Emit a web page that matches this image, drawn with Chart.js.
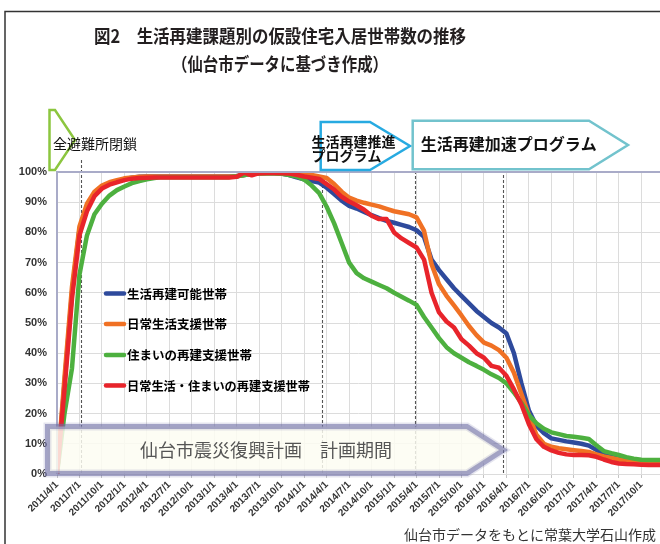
<!DOCTYPE html>
<html><head><meta charset="utf-8">
<script src="https://cdn.jsdelivr.net/npm/chart.js@4/dist/chart.umd.min.js"></script>
<style>html,body{margin:0;padding:0;background:#fff}#wrap{width:660px;height:544px;position:relative}</style>
</head><body><div id="wrap"><canvas id="c" width="660" height="544"></canvas></div>
<script>
// ---- categories (monthly) ----
const months = [
"2011/4/1","2011/5/1","2011/6/1","2011/7/1","2011/8/1","2011/9/1","2011/10/1","2011/11/1","2011/12/1",
"2012/1/1","2012/2/1","2012/3/1","2012/4/1","2012/5/1","2012/6/1","2012/7/1","2012/8/1","2012/9/1","2012/10/1","2012/11/1","2012/12/1",
"2013/1/1","2013/2/1","2013/3/1","2013/4/1","2013/5/1","2013/6/1","2013/7/1","2013/8/1","2013/9/1","2013/10/1","2013/11/1","2013/12/1",
"2014/1/1","2014/2/1","2014/3/1","2014/4/1","2014/5/1","2014/6/1","2014/7/1","2014/8/1","2014/9/1","2014/10/1","2014/11/1","2014/12/1",
"2015/1/1","2015/2/1","2015/3/1","2015/4/1","2015/5/1","2015/6/1","2015/7/1","2015/8/1","2015/9/1","2015/10/1","2015/11/1","2015/12/1",
"2016/1/1","2016/2/1","2016/3/1","2016/4/1","2016/5/1","2016/6/1","2016/7/1","2016/8/1","2016/9/1","2016/10/1","2016/11/1","2016/12/1",
"2017/1/1","2017/2/1","2017/3/1","2017/4/1","2017/5/1","2017/6/1","2017/7/1","2017/8/1","2017/9/1","2017/10/1","2017/11/1","2017/12/1",
"2018/1/1"];

const seriesNames = ["生活再建可能世帯","日常生活支援世帯","住まいの再建支援世帯","日常生活・住まいの再建支援世帯"];

// ---- series values (% of households) ----
const kanouValues = [
0,30,60,81,88.5,93,95,96.2,97,
97.7,98.1,98.4,98.5,98.5,98.5,98.5,98.5,98.5,98.5,98.5,98.5,
98.5,98.5,98.5,98.6,99,99.3,99.5,99.6,99.6,99.5,99,98.2,
97.6,97,96.5,94.8,92.7,90.5,88.8,87.9,86.8,85.7,84.7,83.8,
83.2,82.5,81.8,80.7,78.5,71,67.5,64.5,61.5,59,56.5,54,
52,50,48.5,46.5,40,30,21,16,13.5,11.8,11.3,10.8,
10.4,10,9.4,8,6.9,6.4,5.6,5,4.6,4.3,4.2,4.1,
4.1];
const nichijoValues = [
0,32,62,82,89.5,93.5,95.5,96.6,97.3,
97.9,98.2,98.4,98.5,98.5,98.5,98.5,98.5,98.5,98.5,98.5,98.5,
98.5,98.5,98.5,98.6,99,99.3,99.5,99.6,99.6,99.6,99.4,99.2,
99,99,98.5,98,96,93.5,91.5,90.5,89.8,89.2,88.6,87.8,
87,86.5,86,85,80.5,69.5,62.8,59,55.8,52.5,49,46,
43.5,42.5,41,38.5,33.5,26.5,19.5,13,10,9,8.5,8.2,
7.9,7.6,7.3,6.5,5.8,5.3,4.8,4.3,3.9,3.6,3.5,3.5,
3.5];
const sumaiValues = [
0,20,35,66,79,86,89.5,92.2,94,
95.2,96.3,97,97.6,98,98.3,98.3,98.3,98.3,98.3,98.3,98.3,
98.3,98.3,98.3,98.6,99,99.4,99.6,99.7,99.6,99.4,99,98.5,
97.5,95.5,93,88.5,83,76.5,70,66.5,64.8,63.7,62.6,61.5,
60,58.7,57.4,56,52,48.5,45,42,40,38.5,37,35.8,
34.5,33,31.8,30,27,23.5,19.5,16.8,15,13.8,13.2,12.6,
12.3,12,11.6,9.5,7.6,6.9,6.3,5.6,5.1,4.7,4.6,4.6,
4.6];
const bothValues = [
0,28,58,79,87,92,94.5,95.8,96.6,
97.3,97.8,98,98.1,98.2,98.2,98.2,98.2,98.2,98.2,98.2,98.2,
98.2,98.2,98.2,98.4,99.8,98.9,99.6,99.7,99.7,99.6,99.5,99.1,
98.5,98.1,97.7,96,94.2,91.8,90.2,89,87.5,85.5,84.4,84.4,
80,78,76.5,75,71,60,53.5,50.5,48.5,44.6,42.5,40,
38.5,35.8,35.2,32.5,28,23,16.5,11.5,9,7.8,7,6.5,
6.3,6.3,6.2,5.7,4.8,4,3.5,3.3,3.2,3.1,3,3,
3];

const titleLines = ["図2　生活再建課題別の仮設住宅入居世帯数の推移","（仙台市データに基づき作成）"];
const sourceNote = "仙台市データをもとに常葉大学石山作成";
const eventLabels = ["全避難所閉鎖","生活再建推進","プログラム","生活再建加速プログラム","仙台市震災復興計画　計画期間"];
const eventMonths = [3.25, 35.4, 47.8, 59.5];

const seriesColors = ["#2e4a9c","#f07124","#4db03f","#e8242b"];
const seriesData = [kanouValues, nichijoValues, sumaiValues, bothValues];

const JP = '"Noto Sans CJK JP", "Noto Sans", sans-serif';

function pent(c, x0, y0, x1, xt, y1) {
  c.beginPath();
  c.moveTo(x0, y0); c.lineTo(x1, y0); c.lineTo(xt, (y0 + y1) / 2);
  c.lineTo(x1, y1); c.lineTo(x0, y1); c.closePath();
}

const decor = {
  id: 'decor',
  beforeDraw(chart) {
    const c = chart.ctx;
    c.save();
    c.fillStyle = '#fff'; c.fillRect(0, 0, chart.width, chart.height);
    c.strokeStyle = '#333'; c.lineWidth = 1.5;
    c.beginPath(); c.moveTo(5, 544); c.lineTo(5, 11.5); c.lineTo(660, 11.5); c.stroke();
    c.fillStyle = '#231f20'; c.textAlign = 'center'; c.textBaseline = 'middle';
    c.font = 'bold 18px ' + JP;
    c.fillText(titleLines[0], 280, 36.5, 372);
    c.fillText(titleLines[1], 280, 64.5, 216);
    c.fillStyle = '#333'; c.textAlign = 'right'; c.font = '14px ' + JP;
    c.fillText(sourceNote, 656, 535, 256);
    c.restore();
  },
  beforeDatasetsDraw(chart) {
    const c = chart.ctx, xs = chart.scales.x, a = chart.chartArea;
    const tops = [160, 170, 171, 175];
    c.save();
    c.strokeStyle = '#555'; c.lineWidth = 1.1; c.setLineDash([3, 2]);
    eventMonths.forEach((m, i) => {
      const x = Math.round(xs.getPixelForValue(m)) + 0.5;
      c.beginPath(); c.moveTo(x, tops[i]); c.lineTo(x, a.bottom + 1); c.stroke();
    });
    c.restore();
  },
  afterDatasetsDraw(chart) {
    const c = chart.ctx, a = chart.chartArea;
    c.save();
    // plot frame (left/top)
    c.strokeStyle = '#a9abc8'; c.lineWidth = 2;
    c.beginPath(); c.moveTo(a.left, a.bottom); c.lineTo(a.left, a.top); c.lineTo(a.right, a.top); c.stroke();

    // legend
    c.textAlign = 'left'; c.textBaseline = 'middle';
    const ly = [293.5, 324, 355, 385.5];
    chart.data.datasets.forEach((ds, i) => {
      c.strokeStyle = ds.borderColor; c.lineWidth = 4.5; c.lineCap = 'round';
      c.beginPath(); c.moveTo(106, ly[i]); c.lineTo(124, ly[i]); c.stroke();
      c.fillStyle = '#000'; c.font = 'bold 12.5px ' + JP;
      c.fillText(ds.label, 127, ly[i] + 0.5, 183);
    });
    c.lineCap = 'butt';

    // big plan-period arrow (translucent)
    pent(c, 47.5, 426.5, 467, 503.5, 473.5);
    c.fillStyle = 'rgba(253,253,242,0.84)'; c.fill();
    c.strokeStyle = 'rgba(110,110,165,0.55)'; c.lineWidth = 5; c.lineJoin = 'miter'; c.stroke();
    c.strokeStyle = 'rgba(110,110,165,0.18)'; c.lineWidth = 8; c.stroke();
    c.fillStyle = '#555'; c.font = '18px ' + JP; c.textBaseline = 'middle';
    c.fillText(eventLabels[4], 140, 450, 256);

    // green chevron: all shelters closed
    c.strokeStyle = '#8cc63f'; c.lineWidth = 2.5;
    pent(c, 49.5, 110, 55, 75, 170); c.stroke();
    c.fillStyle = '#111'; c.font = '14px ' + JP;
    c.fillText(eventLabels[0], 53, 143.5, 86);

    // blue box
    pent(c, 320.7, 122, 370, 410, 170);
    c.fillStyle = '#fff'; c.fill();
    c.strokeStyle = '#27aae1'; c.lineWidth = 2.5; c.stroke();
    c.fillStyle = '#111'; c.font = 'bold 14px ' + JP;
    c.fillText(eventLabels[1], 311.5, 141.8, 87);
    c.fillText(eventLabels[2], 311.5, 155.8, 71);

    // teal box
    pent(c, 412.7, 120.7, 589, 628, 169.3);
    c.fillStyle = '#fff'; c.fill();
    c.strokeStyle = '#72c3cd'; c.lineWidth = 2.5; c.stroke();
    c.fillStyle = '#111'; c.font = 'bold 16px ' + JP;
    c.fillText(eventLabels[3], 420.7, 143.5, 177);
    c.restore();
  }
};

const datasets = seriesNames.map((name, i) => ({
  label: name,
  data: seriesData[i].map((v, k) => ({ x: k, y: v })),
  borderColor: seriesColors[i],
  backgroundColor: seriesColors[i],
  borderWidth: 4.5,
  pointRadius: 0,
  tension: 0,
  fill: false,
  order: 4 - i
}));

new Chart(document.getElementById('c').getContext('2d'), {
  type: 'line',
  data: { datasets },
  options: {
    responsive: false, animation: false, devicePixelRatio: 1,
    layout: { padding: { top: 172, left: 0, right: 0, bottom: 0 } },
    plugins: { legend: { display: false }, tooltip: { enabled: false }, title: { display: false } },
    elements: { line: { borderJoinStyle: 'round', borderCapStyle: 'butt' } },
    scales: {
      x: {
        type: 'linear', min: 0, max: 80.5,
        afterBuildTicks: s => { s.ticks = s.ticks.filter(t => Number.isInteger(t.value) && t.value % 3 === 0); },
        afterFit: s => { s.height = 70; },
        ticks: {
          stepSize: 3, autoSkip: false, maxRotation: 45, minRotation: 45, padding: 1,
          color: '#333', font: { family: 'Liberation Sans', weight: 'bold', size: 10 },
          callback: v => months[v] || ''
        },
        grid: { color: '#dcdcdc', lineWidth: 1, tickLength: 4, tickColor: '#c4c4c4' },
        border: { display: false }
      },
      y: {
        min: 0, max: 100,
        afterFit: s => { s.width = 57; },
        ticks: {
          stepSize: 10, padding: 10, color: '#333',
          font: { family: 'Liberation Sans', weight: 'bold', size: 11 },
          callback: v => v + '%'
        },
        grid: { color: '#dcdcdc', lineWidth: 1, drawTicks: false },
        border: { display: false }
      }
    }
  },
  plugins: [decor]
});
</script>
</body></html>
